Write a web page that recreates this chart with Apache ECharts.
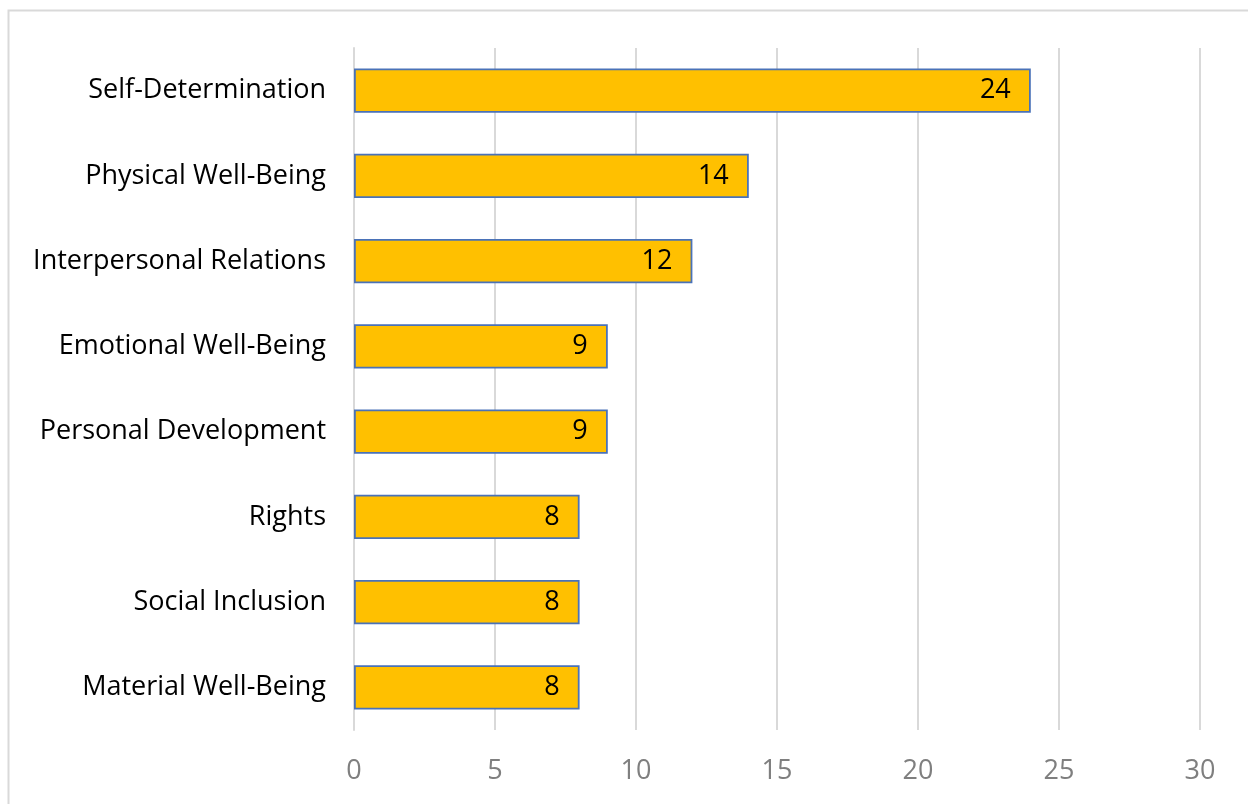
<!DOCTYPE html>
<html>
<head>
<meta charset="utf-8">
<script src="https://cdn.jsdelivr.net/npm/echarts@6/dist/echarts.min.js"></script>
<style>
  html,body{margin:0;padding:0;background:#fff;}
  #chart_wrap{width:1248px;height:804px;}
</style>
</head>
<body>
<div id="chart_wrap"></div>
<script>
var categories=['Self-Determination','Physical Well-Being','Interpersonal Relations','Emotional Well-Being','Personal Development','Rights','Social Inclusion','Material Well-Being'];
var counts=[24,14,12,9,9,8,8,8];
var xTicks=[0,5,10,15,20,25,30];

var objChart=echarts.init(document.getElementById('chart_wrap'));
var fontName='Open Sans';

var option={
  animation:false,
  graphic:[{
    type:'rect',
    shape:{x:8.5,y:10.5,width:1300,height:900},
    style:{fill:'none',stroke:'#d9d9d9',lineWidth:2}
  }],
  grid:{left:354,right:48,top:48,bottom:74},
  xAxis:{
    type:'value',
    min:xTicks[0],
    max:xTicks[xTicks.length-1],
    interval:5,
    axisLine:{show:false},
    axisTick:{show:false},
    splitLine:{lineStyle:{color:'#d9d9d9',width:2}},
    axisLabel:{
      margin:28,
      color:'#7f7f7f',
      fontSize:27,
      fontFamily:fontName
    }
  },
  yAxis:{
    type:'category',
    inverse:true,
    data:categories,
    axisLine:{show:true,lineStyle:{color:'#d9d9d9',width:2}},
    axisTick:{show:false},
    axisLabel:{
      margin:28,
      color:'#000',
      fontSize:27,
      fontFamily:fontName,
      padding:[4,0,0,0]
    }
  },
  series:[{
    type:'bar',
    data:counts,
    barCategoryGap:'48%',
    itemStyle:{color:'#FFC000',borderColor:'#4A72B8',borderWidth:1.8},
    label:{
      show:true,
      position:'insideRight',
      distance:20,
      color:'#000',
      fontSize:27,
      fontFamily:fontName,
      padding:[4,0,0,0]
    }
  }]
};

objChart.setOption(option);
</script>
</body>
</html>
